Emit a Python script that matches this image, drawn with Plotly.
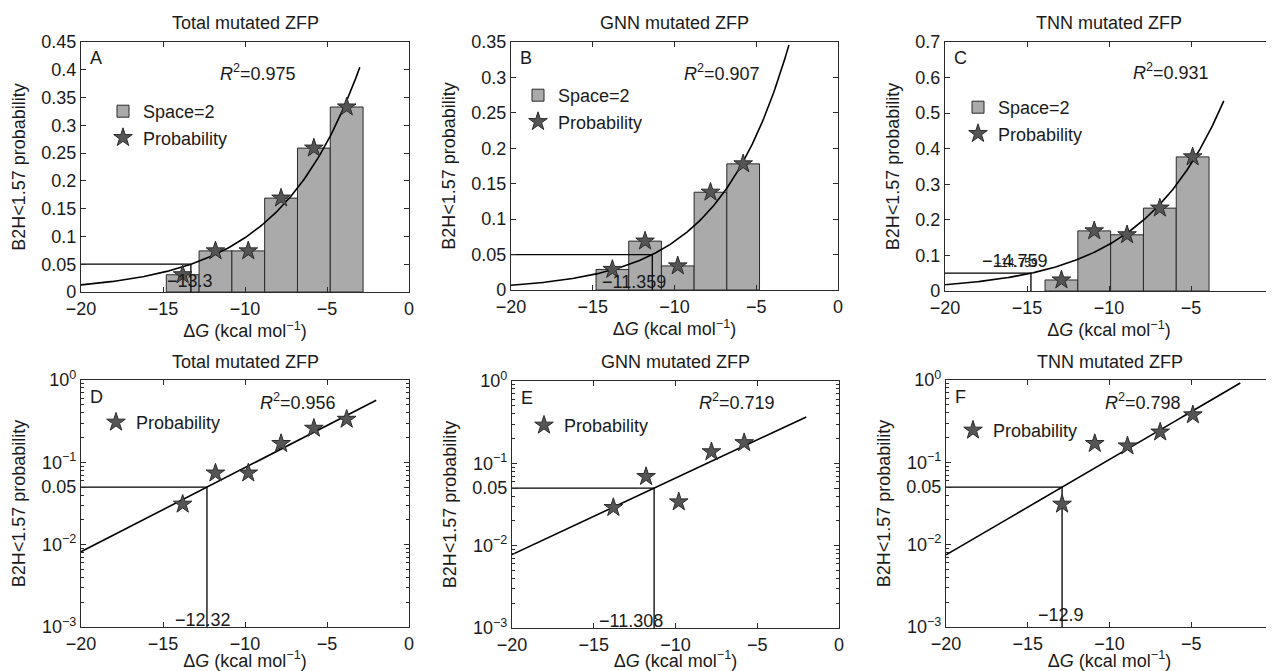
import numpy as np
import plotly.graph_objects as go

# ---------------- data ----------------
titles = ["Total mutated ZFP", "GNN mutated ZFP", "TNN mutated ZFP",
          "Total mutated ZFP", "GNN mutated ZFP", "TNN mutated ZFP"]
letters = ["A", "B", "C", "D", "E", "F"]

total_dG = [-13.8, -11.8, -9.8, -7.8, -5.8, -3.8]
total_p = [0.031, 0.074, 0.074, 0.169, 0.259, 0.333]
gnn_dG = [-13.8, -11.8, -9.8, -7.8, -5.8]
gnn_p = [0.029, 0.069, 0.034, 0.138, 0.178]
tnn_dG = [-12.9, -10.9, -8.9, -6.9, -4.9]
tnn_p = [0.031, 0.169, 0.158, 0.233, 0.377]

# exponential fits (top row): p = 0.05*exp(b*(dG - thr))
lin_thr = [-13.3, -11.359, -14.759]
lin_b = [0.203, 0.2314, 0.2015]
lin_r2 = ["0.975", "0.907", "0.931"]
# log-linear fits (bottom row): log10 p = log10 0.05 + s*(dG - thr)
log_thr = [-12.32, -11.308, -12.9]
log_s = [0.1022, 0.0929, 0.116]
log_r2 = ["0.956", "0.719", "0.798"]

thr_labels_top = ["\u221213.3", "\u221211.359", "\u221214.759"]
thr_labels_bot = ["\u221212.32", "\u221211.308", "\u221212.9"]

level = 0.05
bin_width = 2

x_ticks = [-20, -15, -10, -5, 0]
y_ticks_A = [0, 0.05, 0.1, 0.15, 0.2, 0.25, 0.3, 0.35, 0.4, 0.45]
y_text_A = ["0", "0.05", "0.1", "0.15", "0.2", "0.25", "0.3", "0.35", "0.4", "0.45"]
y_ticks_B = [0, 0.05, 0.1, 0.15, 0.2, 0.25, 0.3, 0.35]
y_text_B = ["0", "0.05", "0.1", "0.15", "0.2", "0.25", "0.3", "0.35"]
y_ticks_C = [0, 0.1, 0.2, 0.3, 0.4, 0.5, 0.6, 0.7]
y_text_C = ["0", "0.1", "0.2", "0.3", "0.4", "0.5", "0.6", "0.7"]
y_ticks_log = [0.001, 0.01, 0.05, 0.1, 1]
y_text_log = ["10<sup>\u22123</sup>", "10<sup>\u22122</sup>", "0.05",
              "10<sup>\u22121</sup>", "10<sup>0</sup>"]
minor_log = [m * 10.0 ** e for e in (-3, -2, -1) for m in range(2, 10)]

# ---------------- style ----------------
FONT = "Liberation Sans, Arial, sans-serif"
FS = 18
W, H = 1274, 671          # browser window
OFF = 8                   # default page (body) margin
FW, FH = W - OFF, H - OFF # figure size
BAR_FILL = "#aaaaaa"
EDGE = "#2a2a2a"
STAR_FILL = "#555555"


def px(xp):
    return (xp - OFF) / FW


def py(yp):
    return (H - yp) / FH


# window-pixel boxes of the axes (left, right, top, bottom)
boxes = [(81, 409, 42, 292), (511, 838, 42, 290), (945, 1273, 42, 291),
         (81, 409, 380, 627), (512, 839, 381, 628), (946, 1273, 380, 627)]

fig = go.Figure()

top_data = [(total_dG, total_p), (gnn_dG, gnn_p), (tnn_dG, tnn_p)]
ytick_sets = [(y_ticks_A, y_text_A), (y_ticks_B, y_text_B), (y_ticks_C, y_text_C)]
yranges = [[0, 0.45], [0, 0.35], [0, 0.7]]

legend_pos = [(103, 93), (518, 77), (958, 89), (96, 404), (524, 407), (953, 412)]


def axname(i, kind):
    return kind if i == 0 else f"{kind}{i+1}"


for i in range(6):
    xa = "x" if i == 0 else f"x{i+1}"
    ya = "y" if i == 0 else f"y{i+1}"
    lg = "legend" if i == 0 else f"legend{i+1}"
    d = top_data[i % 3]
    if i < 3:
        fig.add_trace(go.Bar(x=d[0], y=d[1], width=bin_width, name="Space=2",
                             marker=dict(color=BAR_FILL, line=dict(color=EDGE, width=1)),
                             xaxis=xa, yaxis=ya, legend=lg, showlegend=True))
        thr = lin_thr[i]
        xf = np.linspace(-20, -3, 200)
        yf = level * np.exp(lin_b[i] * (xf - thr))
        ybottom = 0
    else:
        j = i - 3
        thr = log_thr[j]
        xf = np.linspace(-20, -2, 200)
        yf = level * 10 ** (log_s[j] * (xf - thr))
        ybottom = 0.001
    fig.add_trace(go.Scatter(x=xf, y=yf, mode="lines", line=dict(color="black", width=1.6),
                             xaxis=xa, yaxis=ya, showlegend=False, hoverinfo="skip"))
    fig.add_trace(go.Scatter(x=[-20, thr, thr], y=[level, level, ybottom], mode="lines",
                             line=dict(color="black", width=1.3),
                             xaxis=xa, yaxis=ya, showlegend=False, hoverinfo="skip"))
    fig.add_trace(go.Scatter(x=d[0], y=d[1], mode="markers", name="Probability",
                             marker=dict(symbol="star", size=14, color=STAR_FILL,
                                         line=dict(color=EDGE, width=1)),
                             xaxis=xa, yaxis=ya, legend=lg, showlegend=True))

layout = dict(width=FW, height=FH, margin=dict(l=0, r=0, t=0, b=0, autoexpand=False),
              paper_bgcolor="white", plot_bgcolor="white",
              font=dict(family=FONT, size=FS, color="#1a1a1a"),
              showlegend=True, barmode="overlay")

axis_common = dict(showline=True, linecolor=EDGE, linewidth=1.2, mirror="ticks",
                   ticks="inside", ticklen=5, tickcolor=EDGE, showgrid=False,
                   zeroline=False, tickfont=dict(size=FS), automargin=False)

annotations = []
for i in range(6):
    l, r, t, b = boxes[i]
    xdom = [px(l), min(px(r), 1.0)]
    ydom = [py(b), py(t)]
    xa_key = axname(i, "xaxis")
    ya_key = axname(i, "yaxis")
    ya = "y" if i == 0 else f"y{i+1}"
    xa = "x" if i == 0 else f"x{i+1}"
    layout[xa_key] = dict(axis_common, domain=xdom, anchor=ya, range=[-20, 0],
                          tickmode="array", tickvals=x_ticks, ticklabeloverflow="allow",
                          title=dict(text="\u0394<i>G</i> (kcal mol<sup>\u22121</sup>)",
                                     standoff=0, font=dict(size=FS)))
    if i < 3:
        tv, tt = ytick_sets[i]
        layout[ya_key] = dict(axis_common, domain=ydom, anchor=xa, range=yranges[i],
                              tickmode="array", tickvals=tv, ticktext=tt,
                              title=dict(text="B2H<1.57 probability", standoff=10,
                                         font=dict(size=FS)))
    else:
        layout[ya_key] = dict(axis_common, domain=ydom, anchor=xa, type="log",
                              range=[-3, 0], tickmode="array", tickvals=y_ticks_log,
                              ticktext=y_text_log,
                              minor=dict(tickmode="array", tickvals=minor_log,
                                         ticks="inside", ticklen=3, tickcolor=EDGE),
                              title=dict(text="B2H<1.57 probability", standoff=10,
                                         font=dict(size=FS)))
    lx, ly = legend_pos[i]
    lg_key = "legend" if i == 0 else f"legend{i+1}"
    layout[lg_key] = dict(x=px(lx), y=py(ly), xanchor="left", yanchor="top",
                          bgcolor="rgba(0,0,0,0)", borderwidth=0,
                          font=dict(size=FS, family=FONT), tracegroupgap=0,
                          itemclick=False)
    # subplot title
    ty = 23 if i < 3 else 362
    annotations.append(dict(text=titles[i], x=px((l + r) / 2), y=py(ty),
                            xref="paper", yref="paper", showarrow=False,
                            xanchor="center", yanchor="middle", font=dict(size=FS)))
    # panel letter
    annotations.append(dict(text=letters[i], x=0.022, y=0.935 if i < 3 else 0.93,
                            xref=f"{xa} domain", yref=f"{ya} domain", showarrow=False,
                            xanchor="left", yanchor="middle", font=dict(size=FS)))

r2_pos = [(0.418, 0.88), (0.523, 0.879), (0.567, 0.88),
          (0.54, 0.911), (0.566, 0.915), (0.479, 0.911)]
r2_vals = lin_r2 + log_r2
for i in range(6):
    xa = "x" if i == 0 else f"x{i+1}"
    ya = "y" if i == 0 else f"y{i+1}"
    annotations.append(dict(text=f"<i>R</i><sup>2</sup>=" + r2_vals[i],
                            x=r2_pos[i][0], y=r2_pos[i][1],
                            xref=f"{xa} domain", yref=f"{ya} domain", showarrow=False,
                            xanchor="left", yanchor="middle", font=dict(size=FS)))

# threshold labels
top_lab_off = [1.55, 3.2, 3.1]
top_lab_y = [0.02, 0.012, 0.085]
for i in range(3):
    xa = "x" if i == 0 else f"x{i+1}"
    ya = "y" if i == 0 else f"y{i+1}"
    annotations.append(dict(text=thr_labels_top[i], x=lin_thr[i] - top_lab_off[i],
                            y=top_lab_y[i], xref=xa, yref=ya, showarrow=False,
                            xanchor="left", yanchor="middle", font=dict(size=FS)))
# overlapping smaller duplicate label in panel C
annotations.append(dict(text="\u221214.759", x=lin_thr[2] - 2.4, y=0.08, xref="x3", yref="y3",
                        showarrow=False, xanchor="left", yanchor="middle",
                        font=dict(size=12)))
bot_lab_off = [2.05, 3.5, 1.6]
bot_lab_y = [0.00123, 0.00123, 0.0014]
for j in range(3):
    i = j + 3
    xa = f"x{i+1}"
    ya = f"y{i+1}"
    annotations.append(dict(text=thr_labels_bot[j], x=log_thr[j] - bot_lab_off[j],
                            y=np.log10(bot_lab_y[j]), xref=xa, yref=ya, showarrow=False,
                            xanchor="left", yanchor="middle", font=dict(size=FS)))

layout["annotations"] = annotations
fig.update_layout(**layout)
fig.write_html("out.html")
